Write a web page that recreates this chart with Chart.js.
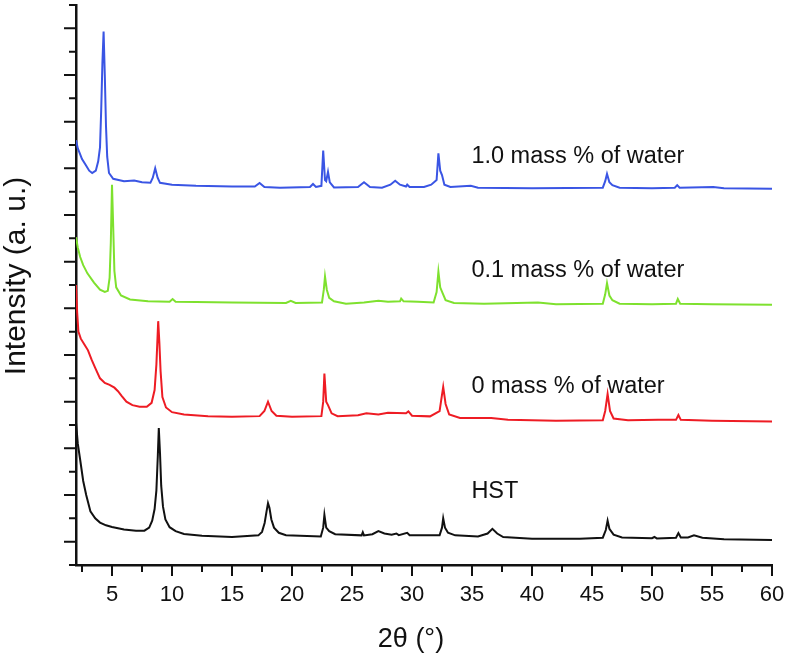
<!DOCTYPE html>
<html>
<head>
<meta charset="utf-8">
<script src="https://cdn.jsdelivr.net/npm/chart.js@4.4.1/dist/chart.umd.min.js"></script>
<style>
  html, body { margin: 0; padding: 0; background: #fff; }
  #wrap { width: 787px; height: 660px; }
</style>
</head>
<body>
<div id="wrap"><canvas id="xrd"></canvas></div>
<script>
// offset intensities, [2theta, intensity]
const hst = [
  [2.0, 6.1], [2.15, 5.2], [2.35, 4.5], [2.6, 3.6], [2.85, 3.0], [3.2, 2.3], [3.6, 2.0], [4.0, 1.82],
  [4.5, 1.7], [5, 1.63], [6, 1.52], [7, 1.47], [7.7, 1.47], [8.1, 1.6], [8.35, 1.9], [8.55, 2.4],
  [8.7, 3.2], [8.82, 4.7], [8.9, 5.87], [9.0, 4.8], [9.1, 3.4], [9.25, 2.5], [9.45, 1.95], [9.8, 1.62],
  [10.3, 1.45], [11, 1.33], [12.5, 1.25], [15, 1.2], [17.2, 1.27], [17.5, 1.42], [17.72, 1.8],
  [17.88, 2.3], [18.0, 2.65], [18.12, 2.45], [18.28, 1.95], [18.5, 1.6], [18.9, 1.38], [19.5, 1.28],
  [22.4, 1.22], [22.6, 1.6], [22.7, 2.15], [22.85, 1.6], [23.1, 1.45], [23.6, 1.32], [25.8, 1.27],
  [25.9, 1.4], [26.0, 1.27], [26.7, 1.32], [27.2, 1.45], [27.7, 1.35], [28.3, 1.3], [28.7, 1.35],
  [28.9, 1.28], [29.6, 1.38], [29.8, 1.28], [32.3, 1.27], [32.5, 1.6], [32.6, 2.0], [32.75, 1.6],
  [33.0, 1.38], [33.6, 1.27], [35.5, 1.22], [36.3, 1.35], [36.7, 1.55], [37.1, 1.35], [37.6, 1.2],
  [40, 1.12], [44, 1.12], [45.9, 1.17], [46.15, 1.5], [46.3, 1.9], [46.45, 1.55], [46.8, 1.3],
  [47.5, 1.18], [50.0, 1.15], [50.2, 1.2], [50.4, 1.14], [52.0, 1.17], [52.2, 1.37], [52.4, 1.18],
  [53.0, 1.18], [53.5, 1.27], [54.2, 1.17], [56, 1.1], [60, 1.07]
];
const water0 = [
  [2.0, 12.0], [2.1, 10.8], [2.2, 10.0], [2.4, 9.7], [2.7, 9.45], [3.0, 9.2], [3.3, 8.8], [3.6, 8.45],
  [4.0, 8.0], [4.4, 7.8], [4.8, 7.72], [5.2, 7.6], [5.5, 7.45], [5.8, 7.25], [6.2, 7.0], [6.7, 6.85],
  [7.3, 6.78], [7.9, 6.78], [8.3, 6.95], [8.55, 7.5], [8.7, 8.6], [8.85, 10.45], [8.95, 9.5], [9.05, 8.3],
  [9.2, 7.2], [9.5, 6.75], [10, 6.55], [11, 6.45], [13, 6.38], [15, 6.35], [17.3, 6.38], [17.7, 6.6],
  [18.0, 7.0], [18.3, 6.6], [18.7, 6.4], [20, 6.35], [22.45, 6.38], [22.6, 7.0], [22.7, 8.2], [22.85, 7.0],
  [23.0, 6.85], [23.3, 6.5], [23.8, 6.38], [25.5, 6.42], [26.2, 6.5], [27.2, 6.45], [28.0, 6.52],
  [29.5, 6.5], [29.7, 6.58], [30.0, 6.4], [31.5, 6.37], [32.3, 6.6], [32.4, 6.95], [32.6, 7.63],
  [32.8, 6.9], [33.1, 6.45], [34, 6.3], [36.6, 6.3], [38, 6.22], [42, 6.18], [45.9, 6.2], [46.1, 6.6],
  [46.3, 7.33], [46.5, 6.6], [46.8, 6.28], [48, 6.2], [50.5, 6.22], [52.0, 6.22], [52.2, 6.43],
  [52.4, 6.22], [55, 6.18], [60, 6.15]
];
const water01 = [
  [2.0, 14.05], [2.15, 13.6], [2.35, 13.2], [2.6, 12.85], [2.95, 12.5], [3.5, 12.1], [4.0, 11.8],
  [4.4, 11.7], [4.65, 11.75], [4.8, 12.3], [4.9, 13.8], [5.0, 16.3], [5.1, 14.5], [5.2, 12.6],
  [5.35, 11.9], [5.75, 11.55], [6.5, 11.38], [8, 11.3], [9.8, 11.28], [10.05, 11.4], [10.3, 11.28],
  [12, 11.27], [15, 11.25], [19.5, 11.23], [19.9, 11.32], [20.3, 11.23], [22.5, 11.25], [22.65, 11.8],
  [22.75, 12.36], [22.9, 11.8], [23.1, 11.45], [23.5, 11.3], [24.5, 11.2], [26, 11.25], [27.2, 11.33],
  [28, 11.28], [29.0, 11.3], [29.1, 11.42], [29.3, 11.3], [30.5, 11.28], [31.8, 11.25], [32.05, 11.7],
  [32.2, 12.57], [32.35, 11.9], [32.55, 11.65], [32.8, 11.35], [33.5, 11.23], [36, 11.2], [40.5, 11.25],
  [42, 11.18], [45.9, 11.2], [46.1, 11.6], [46.25, 12.08], [46.45, 11.55], [46.7, 11.35], [47.3, 11.2],
  [50, 11.18], [52.0, 11.2], [52.15, 11.4], [52.35, 11.2], [55, 11.17], [60, 11.15]
];
const water10 = [
  [2.0, 18.2], [2.15, 17.85], [2.3, 17.66], [2.5, 17.4], [2.8, 17.15], [3.1, 16.9], [3.35, 16.8],
  [3.65, 16.9], [3.85, 17.3], [4.0, 17.9], [4.1, 19.5], [4.2, 21.5], [4.3, 22.86], [4.4, 21.0],
  [4.5, 18.8], [4.6, 17.5], [4.75, 16.8], [5.1, 16.55], [6, 16.45], [6.85, 16.48], [7.5, 16.4],
  [8.2, 16.38], [8.4, 16.6], [8.6, 17.0], [8.8, 16.6], [9.0, 16.38], [10, 16.3], [12, 16.25],
  [15, 16.22], [16.9, 16.22], [17.3, 16.37], [17.7, 16.2], [19, 16.17], [21.5, 16.2], [21.75, 16.33],
  [22.0, 16.2], [22.45, 16.25], [22.6, 17.76], [22.75, 16.5], [22.85, 16.45], [23.0, 16.85],
  [23.15, 16.4], [23.5, 16.18], [25.5, 16.2], [26.0, 16.4], [26.5, 16.2], [27.5, 16.17], [28.2, 16.3],
  [28.6, 16.47], [29.0, 16.3], [29.5, 16.22], [29.6, 16.3], [29.8, 16.2], [31, 16.2], [31.6, 16.3],
  [32.05, 16.5], [32.2, 17.64], [32.35, 16.9], [32.5, 16.71], [32.7, 16.3], [33.2, 16.2], [34.9, 16.25],
  [35.5, 16.17], [40, 16.15], [45.9, 16.17], [46.1, 16.45], [46.25, 16.76], [46.45, 16.4], [46.7, 16.28],
  [47.3, 16.17], [50, 16.15], [51.9, 16.17], [52.1, 16.28], [52.3, 16.17], [55.1, 16.2], [56, 16.15],
  [60, 16.13]
];

const seriesNames = ["HST", "0 mass % of water", "0.1 mass % of water", "1.0 mass % of water"];
const xTicks = [5, 10, 15, 20, 25, 30, 35, 40, 45, 50, 55, 60];

// where the curve names sit (data coords, left/baseline of the text)
const nameSpots = [[34.95, 2.87], [34.95, 7.37], [34.95, 12.36], [34.95, 17.23]];

const FONT = "'Liberation Sans', Arial, sans-serif";

const decorations = {
  id: "decorations",
  afterDraw(chart) {
    const { ctx, scales: { x, y } } = chart;
    const x0 = x.getPixelForValue(2);
    const y0 = y.getPixelForValue(0);
    ctx.save();
    ctx.strokeStyle = "#111";
    ctx.lineWidth = 2;
    ctx.beginPath();
    // x ticks, major every 5, minor in between
    for (let v = 2.5; v <= 60; v += 2.5) {
      const px = x.getPixelForValue(v);
      const len = v % 5 === 0 ? 11 : 7;
      ctx.moveTo(px, y0);
      ctx.lineTo(px, y0 + len);
    }
    // y ticks, no labels
    for (let v = 0; v <= 24; v++) {
      const py = y.getPixelForValue(v);
      const len = v % 2 === 1 ? 12 : 7;
      ctx.moveTo(x0, py);
      ctx.lineTo(x0 - len, py);
    }
    ctx.stroke();

    ctx.fillStyle = "#111";
    ctx.textBaseline = "alphabetic";
    ctx.textAlign = "left";
    ctx.font = "23.5px " + FONT;
    seriesNames.forEach((name, i) => {
      ctx.fillText(name, x.getPixelForValue(nameSpots[i][0]), y.getPixelForValue(nameSpots[i][1]));
    });

    // axis titles
    ctx.font = "27px " + FONT;
    ctx.textAlign = "center";
    ctx.fillText("2\u03b8 (\u00b0)", 411, 647);
    ctx.translate(25, 276);
    ctx.rotate(-Math.PI / 2);
    ctx.font = "30px " + FONT;
    ctx.fillText("Intensity (a. u.)", 0, 0);
    ctx.restore();
  }
};

const ctx = document.getElementById("xrd").getContext("2d");
const xrdChart = new Chart(ctx, {
  type: "line",
  data: {
    datasets: [
      { label: seriesNames[0], data: hst, borderColor: "#111111" },
      { label: seriesNames[1], data: water0, borderColor: "#ee1c24" },
      { label: seriesNames[2], data: water01, borderColor: "#7ee12e" },
      { label: seriesNames[3], data: water10, borderColor: "#3a55e4" },
    ],
  },
  options: {
    responsive: true,
    maintainAspectRatio: false,
    animation: false,
    layout: { padding: { top: 5, right: 15, left: 0, bottom: 0 } },
    elements: {
      point: { radius: 0 },
      line: { borderWidth: 2, tension: 0 },
    },
    plugins: {
      legend: { display: false },
      tooltip: { enabled: false },
    },
    scales: {
      x: {
        type: "linear",
        min: 2,
        max: 60,
        grid: { display: false, drawTicks: false },
        border: { display: true, color: "#111", width: 2.5 },
        ticks: {
          stepSize: 5,
          autoSkip: false,
          maxRotation: 0,
          padding: 17,
          color: "#111",
          font: { family: FONT, size: 22 },
          callback: (v) => (xTicks.includes(v) ? String(v) : ""),
        },
        afterFit(scale) {
          scale.height = 95;
          scale.paddingLeft = 0;
          scale.paddingRight = 0;
        },
      },
      y: {
        min: 0,
        max: 24,
        grid: { display: false, drawTicks: false },
        border: { display: true, color: "#111", width: 2.5 },
        ticks: { display: false, stepSize: 1 },
        afterFit(scale) {
          scale.width = 76;
          scale.paddingTop = 0;
          scale.paddingBottom = 0;
        },
      },
    },
  },
  plugins: [decorations],
});
</script>
</body>
</html>
